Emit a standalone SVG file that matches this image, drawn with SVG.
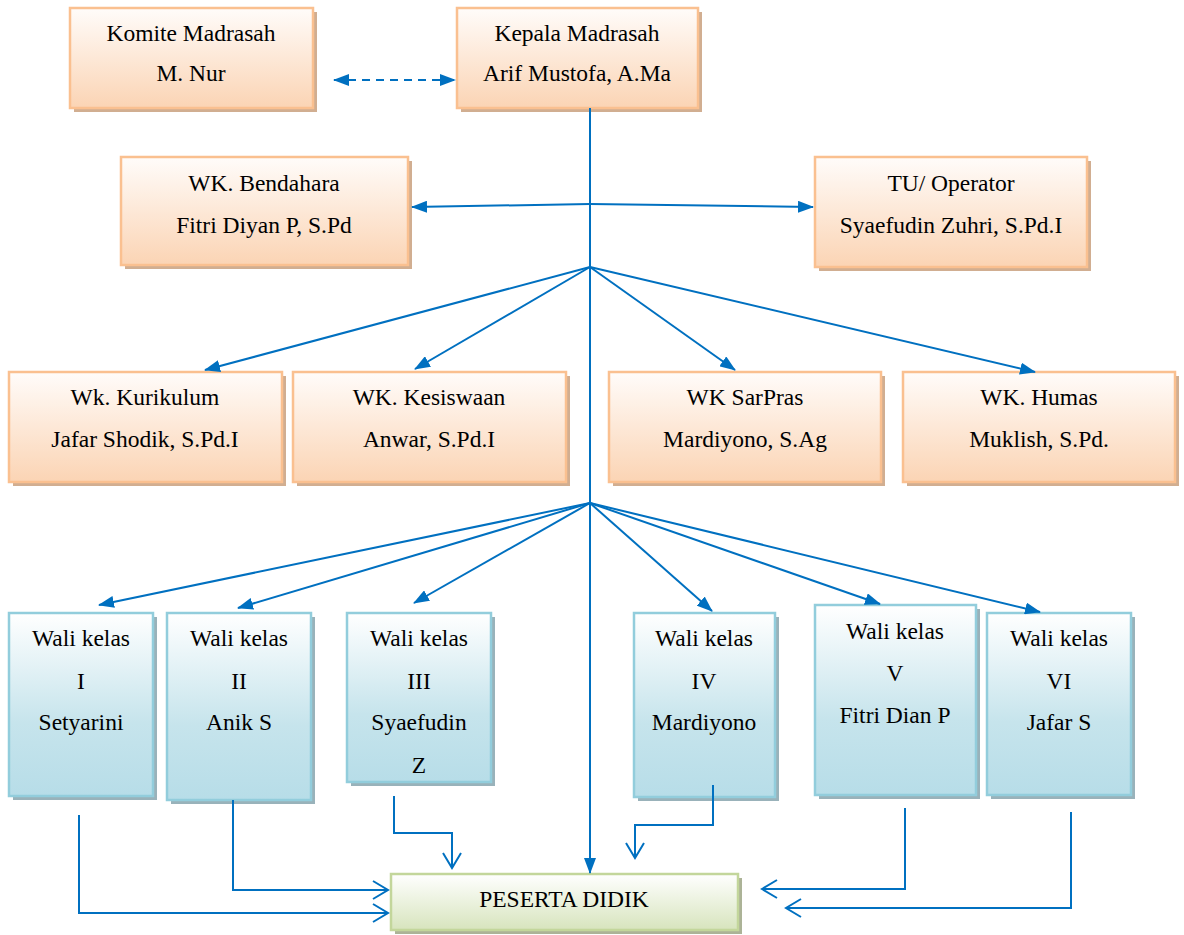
<svg xmlns="http://www.w3.org/2000/svg" width="1184" height="935" viewBox="0 0 1184 935">
<style>
text{font-family:"Liberation Serif","Times New Roman",serif;font-size:23.5px;fill:#000;text-anchor:middle}
.or{fill:url(#gOr);stroke:#fac090;stroke-width:2.5}
.ors{fill:#c9a07e;opacity:.85}
.bl{fill:url(#gBl);stroke:#92cddc;stroke-width:2.5}
.bls{fill:#8eaab3;opacity:.9}
.gr{fill:url(#gGr);stroke:#c3d69b;stroke-width:2.5}
.grs{fill:#a3ab8c;opacity:.9}
.c{fill:none;stroke:#0070c0;stroke-width:2}
.ca{fill:none;stroke:#0070c0;stroke-width:2;marker-end:url(#af)}
.co{fill:none;stroke:#0070c0;stroke-width:2;marker-end:url(#ao)}
</style>
<defs>
<linearGradient id="gOr" x1="0" y1="0" x2="0" y2="1"><stop offset="0" stop-color="#fffcfa"/><stop offset="1" stop-color="#fbd4b4"/></linearGradient>
<linearGradient id="gBl" x1="0" y1="0" x2="0" y2="1"><stop offset="0" stop-color="#ffffff"/><stop offset="0.6" stop-color="#c6e4ec"/><stop offset="1" stop-color="#b7dde8"/></linearGradient>
<linearGradient id="gGr" x1="0" y1="0" x2="0" y2="1"><stop offset="0" stop-color="#ffffff"/><stop offset="1" stop-color="#d7e4bd"/></linearGradient>
<marker id="af" markerUnits="userSpaceOnUse" markerWidth="16" markerHeight="12" refX="15" refY="6" orient="auto"><path d="M0,0 L16,6 L0,12 Z" fill="#0070c0"/></marker>
<marker id="as" markerUnits="userSpaceOnUse" markerWidth="16" markerHeight="12" refX="1" refY="6" orient="auto"><path d="M16,0 L0,6 L16,12 Z" fill="#0070c0"/></marker>
<marker id="ao" markerUnits="userSpaceOnUse" markerWidth="18" markerHeight="20" refX="16" refY="10" orient="auto"><path d="M1,1 L16,10 L1,19" fill="none" stroke="#0070c0" stroke-width="2"/></marker>
</defs>
<g id="komite"><rect class="ors" x="74" y="12" width="243" height="100"/><rect class="or" x="70" y="8" width="243" height="100"/><text x="191" y="41">Komite Madrasah</text><text x="191" y="81">M. Nur</text></g>
<g id="kepala"><rect class="ors" x="461" y="12" width="241" height="100"/><rect class="or" x="457" y="8" width="241" height="100"/><text x="577" y="41">Kepala Madrasah</text><text x="577" y="81">Arif Mustofa, A.Ma</text></g>
<g id="bendahara"><rect class="ors" x="125" y="161" width="287" height="108"/><rect class="or" x="121" y="157" width="287" height="108"/><text x="264" y="191">WK. Bendahara</text><text x="264" y="233">Fitri Diyan P, S.Pd</text></g>
<g id="tu"><rect class="ors" x="819" y="161" width="272" height="110"/><rect class="or" x="815" y="157" width="272" height="110"/><text x="951" y="191">TU/ Operator</text><text x="951" y="233">Syaefudin Zuhri, S.Pd.I</text></g>
<g id="kurikulum"><rect class="ors" x="13" y="376" width="273" height="110"/><rect class="or" x="9" y="372" width="273" height="110"/><text x="145" y="405">Wk. Kurikulum</text><text x="145" y="447">Jafar Shodik, S.Pd.I</text></g>
<g id="kesiswaan"><rect class="ors" x="297" y="376" width="273" height="110"/><rect class="or" x="293" y="372" width="273" height="110"/><text x="429" y="405">WK. Kesiswaan</text><text x="429" y="447">Anwar, S.Pd.I</text></g>
<g id="sarpras"><rect class="ors" x="613" y="376" width="272" height="110"/><rect class="or" x="609" y="372" width="272" height="110"/><text x="745" y="405">WK SarPras</text><text x="745" y="447">Mardiyono, S.Ag</text></g>
<g id="humas"><rect class="ors" x="907" y="376" width="272" height="110"/><rect class="or" x="903" y="372" width="272" height="110"/><text x="1039" y="405">WK. Humas</text><text x="1039" y="447">Muklish, S.Pd.</text></g>

<g id="wali1"><rect class="bls" x="13" y="617" width="144" height="183"/><rect class="bl" x="9" y="613" width="144" height="183"/><text x="81" y="646">Wali kelas</text><text x="81" y="689">I</text><text x="81" y="730">Setyarini</text></g>
<g id="wali2"><rect class="bls" x="171" y="617" width="144" height="187"/><rect class="bl" x="167" y="613" width="144" height="187"/><text x="239" y="646">Wali kelas</text><text x="239" y="689">II</text><text x="239" y="730">Anik S</text></g>
<g id="wali3"><rect class="bls" x="351" y="617" width="144" height="169"/><rect class="bl" x="347" y="613" width="144" height="169"/><text x="419" y="646">Wali kelas</text><text x="419" y="689">III</text><text x="419" y="730">Syaefudin</text><text x="419" y="773">Z</text></g>
<g id="wali4"><rect class="bls" x="638" y="617" width="141" height="184"/><rect class="bl" x="634" y="613" width="141" height="184"/><text x="704" y="646">Wali kelas</text><text x="704" y="689">IV</text><text x="704" y="730">Mardiyono</text></g>
<g id="wali5"><rect class="bls" x="819" y="609" width="161" height="190"/><rect class="bl" x="815" y="605" width="161" height="190"/><text x="895" y="639">Wali kelas</text><text x="895" y="681">V</text><text x="895" y="723">Fitri Dian P</text></g>
<g id="wali6"><rect class="bls" x="991" y="617" width="144" height="182"/><rect class="bl" x="987" y="613" width="144" height="182"/><text x="1059" y="646">Wali kelas</text><text x="1059" y="689">VI</text><text x="1059" y="730">Jafar S</text></g>

<g id="peserta"><rect class="grs" x="395" y="878" width="347" height="56"/><rect class="gr" x="391" y="874" width="347" height="56"/><text x="564" y="907">PESERTA DIDIK</text></g>

<g id="connectors">
<line x1="334" y1="80" x2="455" y2="80" class="c" stroke-dasharray="8,6" marker-start="url(#as)" marker-end="url(#af)"/>
<line class="ca" x1="590" y1="108" x2="590" y2="873"/>
<path class="ca" d="M590,204 L412,207"/>
<path class="ca" d="M590,204 L813,207"/>
<line class="ca" x1="590" y1="267" x2="205" y2="370"/>
<line class="ca" x1="590" y1="267" x2="415" y2="369"/>
<line class="ca" x1="590" y1="267" x2="735" y2="370"/>
<line class="ca" x1="590" y1="267" x2="1035" y2="372"/>
<line class="ca" x1="590" y1="503" x2="99" y2="605"/>
<line class="ca" x1="590" y1="503" x2="238" y2="608"/>
<line class="ca" x1="590" y1="503" x2="414" y2="603"/>
<line class="ca" x1="590" y1="503" x2="712" y2="611"/>
<line class="ca" x1="590" y1="503" x2="880" y2="604"/>
<line class="ca" x1="590" y1="503" x2="1040" y2="612"/>
<path class="co" d="M79,815 V913 H388"/>
<path class="co" d="M233,800 V890 H388"/>
<path class="co" d="M394,796 V833 H452 V868"/>
<path class="co" d="M713,785 V825 H635 V858"/>
<path class="co" d="M905,808 V889 H762"/>
<path class="co" d="M1071,812 V908 H786"/>
</g>
</svg>
